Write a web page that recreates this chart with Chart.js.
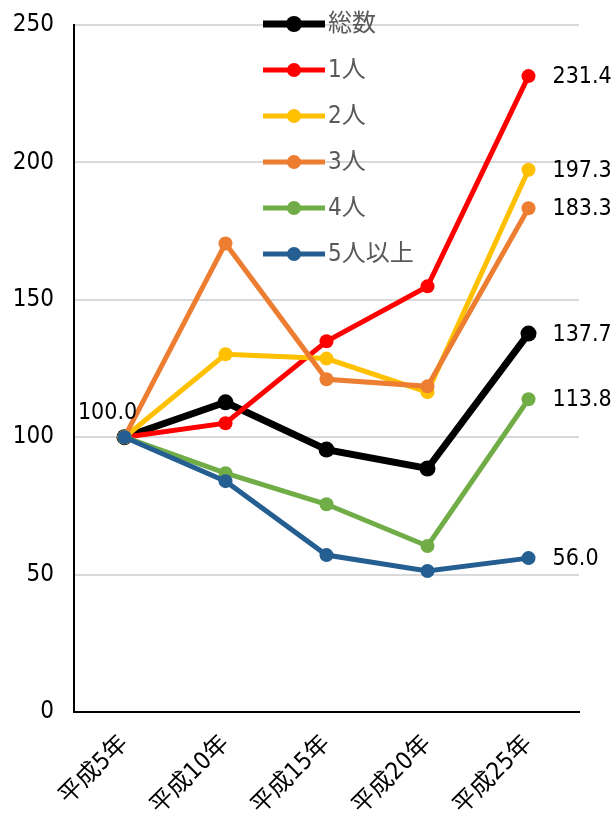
<!DOCTYPE html>
<html lang="ja">
<head>
    <meta charset="UTF-8">
    <title>世帯人員別 指数</title>
    <script src="https://cdn.jsdelivr.net/npm/chart.js"></script>
    <style>
        html, body {
            margin: 0;
            padding: 0;
            background: #ffffff;
        }
        #wrap {
            width: 615px;
            height: 818px;
        }
    </style>
</head>
<body>
    <div id="wrap"><canvas id="chart"></canvas></div>

    <script>
        // 年次
        const years = ['平成5年', '平成10年', '平成15年', '平成20年', '平成25年'];

        // 平成5年 = 100 とした指数
        const total = [100.0, 112.7, 95.5, 88.6, 137.7];
        const one = [100.0, 105.1, 134.9, 154.9, 231.4];
        const two = [100.0, 130.2, 128.6, 116.4, 197.3];
        const three = [100.0, 170.5, 121.1, 118.5, 183.3];
        const four = [100.0, 86.9, 75.6, 60.4, 113.8];
        const fivePlus = [100.0, 84.0, 57.1, 51.3, 56.0];

        const yTicks = [0, 50, 100, 150, 200, 250];

        const numFont = "'DejaVu Sans Condensed', 'Liberation Sans Narrow', 'Noto Sans CJK JP', sans-serif";

        function series(label, data, color, width, radius, order) {
            return {
                label: label,
                data: data,
                borderColor: color,
                backgroundColor: color,
                borderWidth: width,
                pointRadius: radius,
                pointHoverRadius: radius,
                pointBorderWidth: 0,
                tension: 0,
                order: order
            };
        }

        // 凡例は描画領域の中に縦並びで置く
        const insideLegend = {
            id: 'insideLegend',
            afterDraw(chart) {
                const ctx = chart.ctx;
                const x0 = 263, x1 = 325, top = 24, step = 46;
                ctx.save();
                chart.data.datasets.forEach((ds, i) => {
                    const y = top + i * step;
                    ctx.strokeStyle = ds.borderColor;
                    ctx.lineWidth = ds.borderWidth;
                    ctx.beginPath();
                    ctx.moveTo(x0, y);
                    ctx.lineTo(x1, y);
                    ctx.stroke();
                    ctx.fillStyle = ds.backgroundColor;
                    ctx.beginPath();
                    ctx.arc((x0 + x1) / 2, y, ds.pointRadius, 0, Math.PI * 2);
                    ctx.fill();
                    ctx.fillStyle = '#595959';
                    ctx.font = '24px ' + numFont;
                    ctx.textAlign = 'left';
                    ctx.textBaseline = 'middle';
                    ctx.fillText(ds.label, x1 + 3, y + 1);
                });
                ctx.restore();
            }
        };

        // 最新年の値と基準値のラベル
        const valueLabels = {
            id: 'valueLabels',
            afterDatasetsDraw(chart) {
                const ctx = chart.ctx;
                ctx.save();
                ctx.fillStyle = '#000000';
                ctx.font = '23px ' + numFont;
                ctx.textBaseline = 'middle';
                chart.data.datasets.forEach((ds, i) => {
                    const meta = chart.getDatasetMeta(i);
                    const last = meta.data[meta.data.length - 1];
                    ctx.textAlign = 'left';
                    ctx.fillText(ds.data[ds.data.length - 1].toFixed(1), last.x + 24, last.y + 1);
                });
                const first = chart.getDatasetMeta(0).data[0];
                ctx.textAlign = 'center';
                ctx.fillText(total[0].toFixed(1), first.x - 17, first.y - 24);
                ctx.restore();
            }
        };

        new Chart(document.getElementById('chart'), {
            type: 'line',
            data: {
                labels: years,
                datasets: [
                    series('総数', total, '#000000', 7, 8, 5),
                    series('1人', one, '#ff0000', 5, 7, 4),
                    series('2人', two, '#ffc000', 5, 7, 3),
                    series('3人', three, '#ed7d31', 5, 7, 2),
                    series('4人', four, '#70ad47', 5, 7, 1),
                    series('5人以上', fivePlus, '#255e91', 5, 7, 0)
                ]
            },
            options: {
                responsive: true,
                maintainAspectRatio: false,
                animation: false,
                layout: { padding: { top: 25, right: 36, left: 0, bottom: 0 } },
                plugins: {
                    legend: { display: false },
                    tooltip: { enabled: false }
                },
                scales: {
                    x: {
                        offset: true,
                        grid: { display: false, drawTicks: false },
                        border: { color: '#000000', width: 2 },
                        ticks: {
                            color: '#000000',
                            font: { family: numFont, size: 24 },
                            minRotation: 45,
                            maxRotation: 45,
                            padding: 18
                        },
                        afterFit(scale) { scale.height = 106; }
                    },
                    y: {
                        min: 0,
                        max: 250,
                        afterBuildTicks(scale) {
                            scale.ticks = yTicks.map(v => ({ value: v }));
                        },
                        grid: {
                            color: (c) => c.tick && c.tick.value === 0 ? 'rgba(0,0,0,0)' : '#d9d9d9',
                            lineWidth: 2,
                            drawTicks: false
                        },
                        border: { color: '#000000', width: 2 },
                        ticks: {
                            color: '#000000',
                            font: { family: numFont, size: 24 },
                            padding: 20
                        },
                        afterFit(scale) {
                            scale.width = 74;
                            scale.paddingTop = 0;
                            scale.paddingBottom = 0;
                        }
                    }
                }
            },
            plugins: [insideLegend, valueLabels]
        });
    </script>
</body>
</html>
